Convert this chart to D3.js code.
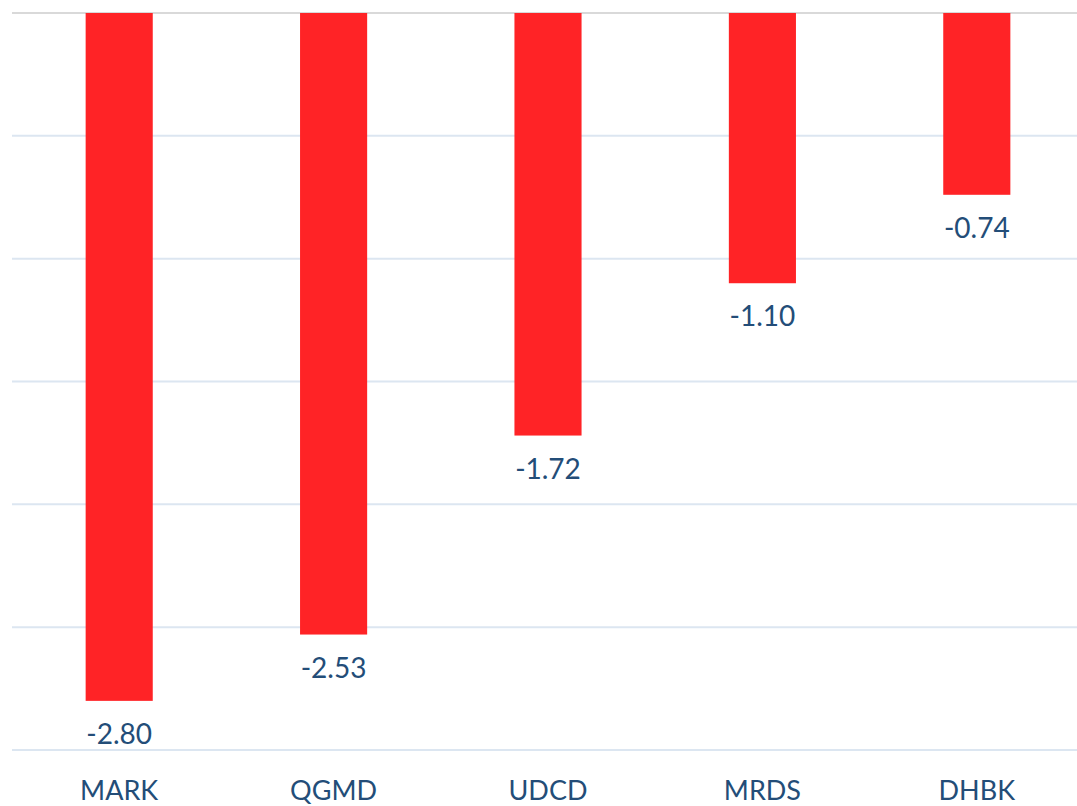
<!DOCTYPE html>
<html>
<head>
<meta charset="utf-8">
<script src="https://cdn.jsdelivr.net/npm/d3@7"></script>
<style>
  body { margin: 0; background: #fff; }
  svg { display: block; }
</style>
</head>
<body>
<svg id="chart" width="1077" height="806"></svg>
<script>
var categories = ["MARK", "QGMD", "UDCD", "MRDS", "DHBK"];
var values = [-2.80, -2.53, -1.72, -1.10, -0.74];
var gridTicks = [0, -0.5, -1, -1.5, -2, -2.5, -3];

var svg = d3.select("#chart");
var plotLeft = 12, plotRight = 1084, plotTop = 13, plotBottom = 750;

var x = d3.scaleBand()
  .domain(categories)
  .range([plotLeft, plotRight])
  .paddingInner(0.687)
  .paddingOuter(0.3435);

var y = d3.scaleLinear()
  .domain([0, -3])
  .range([plotTop, plotBottom]);

// gridlines
svg.append("g")
  .selectAll("line")
  .data(gridTicks)
  .enter()
  .append("line")
  .attr("x1", plotLeft)
  .attr("x2", 1077)
  .attr("y1", function(d) { return y(d); })
  .attr("y2", function(d) { return y(d); })
  .attr("stroke", function(d) { return d === 0 ? "#d9d9d9" : "#dce6f1"; })
  .attr("stroke-width", 2);

// bars
svg.append("g")
  .selectAll("rect")
  .data(values)
  .enter()
  .append("rect")
  .attr("x", function(d, i) { return x(categories[i]); })
  .attr("y", y(0))
  .attr("width", x.bandwidth())
  .attr("height", function(d) { return y(d) - y(0); })
  .attr("fill", "#ff2326");

// value labels
svg.append("g")
  .selectAll("text")
  .data(values)
  .enter()
  .append("text")
  .attr("x", function(d, i) { return x(categories[i]) + x.bandwidth() / 2; })
  .attr("y", function(d) { return y(d) + 43; })
  .attr("text-anchor", "middle")
  .style("font-family", "Lato, 'Open Sans', sans-serif")
  .style("font-size", "28px")
  .style("fill", "#234d78")
  .text(function(d) { return d.toFixed(2); });

// category labels
svg.append("g")
  .selectAll("text")
  .data(categories)
  .enter()
  .append("text")
  .attr("x", function(d) { return x(d) + x.bandwidth() / 2; })
  .attr("y", 800)
  .attr("text-anchor", "middle")
  .style("font-family", "Lato, 'Open Sans', sans-serif")
  .style("font-size", "27px")
  .style("fill", "#234d78")
  .text(function(d) { return d; });
</script>
</body>
</html>
